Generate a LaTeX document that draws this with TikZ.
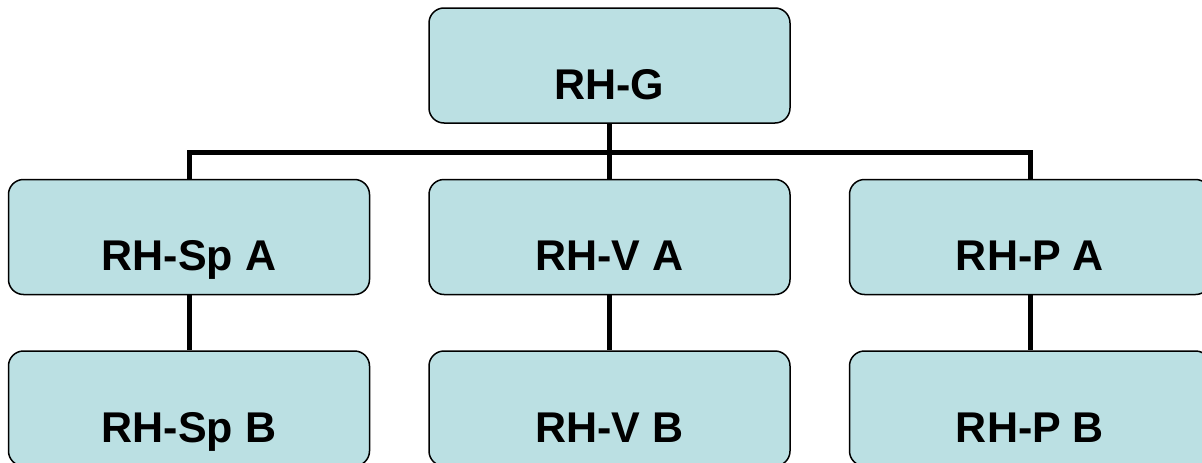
\documentclass[tikz,border=0pt]{standalone}
\usepackage{fontspec}
\setmainfont{Liberation Sans}
\usetikzlibrary{positioning, calc}
\definecolor{boxfill}{RGB}{187,224,227}

\tikzset{
  unit/.style={draw=black, line width=1.5pt, fill=boxfill, rounded corners=15pt,
    minimum width=361pt, inner sep=0pt, text height=91pt, text depth=24pt,
    font=\fontsize{43}{50}\selectfont\bfseries},
  link/.style={line width=5pt}
}

\begin{document}
\begin{tikzpicture}[x=1pt, y=-1pt]
            \useasboundingbox (0,0) rectangle (1202,463);
            \coordinate (bus) at (609.5,152.5);
            \draw (609.5,65.5) node[unit] (g) {RH-G};
            \draw (189,237) node[unit] (spa) {RH-Sp A};
            \draw (609.5,237) node[unit] (va) {RH-V A};
            \draw (1030,237) node[unit] (pa) {RH-P A};
            \draw (189,408.5) node[unit] (spb) {RH-Sp B};
            \draw (609.5,408.5) node[unit] (vb) {RH-V B};
            \draw (1030,408.5) node[unit] (pb) {RH-P B};
            % tree links
            \draw[link] (spa.north) |- (bus) -| (pa.north);
            \draw[link] (g.south) -- (va.north);
            \draw[link] (spa.south) -- (spb.north);
            \draw[link] (va.south) -- (vb.north);
            \draw[link] (pa.south) -- (pb.north);
        \end{tikzpicture}
\end{document}
